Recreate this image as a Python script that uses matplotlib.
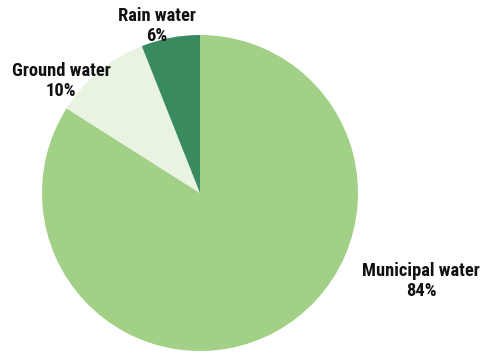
import matplotlib.pyplot as plt

labels = ['Municipal water', 'Ground water', 'Rain water']
shares = [84, 10, 6]
colors = ['#a1d086', '#e8f3e1', '#3a8a60']

plt.rcParams['font.family'] = ['Roboto Condensed', 'DejaVu Sans']

fig = plt.figure(figsize=(4.82, 3.53), dpi=100)
ax = fig.add_axes([0, 0, 1, 1])
ax.pie(shares, colors=colors, startangle=90, counterclock=False,
       radius=1, center=(0, 0), wedgeprops={'linewidth': 0})
ax.set_xlim(-200 / 158, 282 / 158)
ax.set_ylim(-160 / 158, 193 / 158)
ax.set_aspect('equal')
ax.axis('off')

# label positions (data units, pie radius = 1)
label_pos = [(1.399, -0.557), (-0.880, 0.709), (-0.272, 1.057)]
for lab, val, (x, y) in zip(labels, shares, label_pos):
    ax.text(x, y, f'{lab}\n{val}%', ha='center', va='center',
            fontsize=13.3, fontweight='bold', linespacing=1.15, color='#111111')

fig.savefig('out.png', dpi=100)
